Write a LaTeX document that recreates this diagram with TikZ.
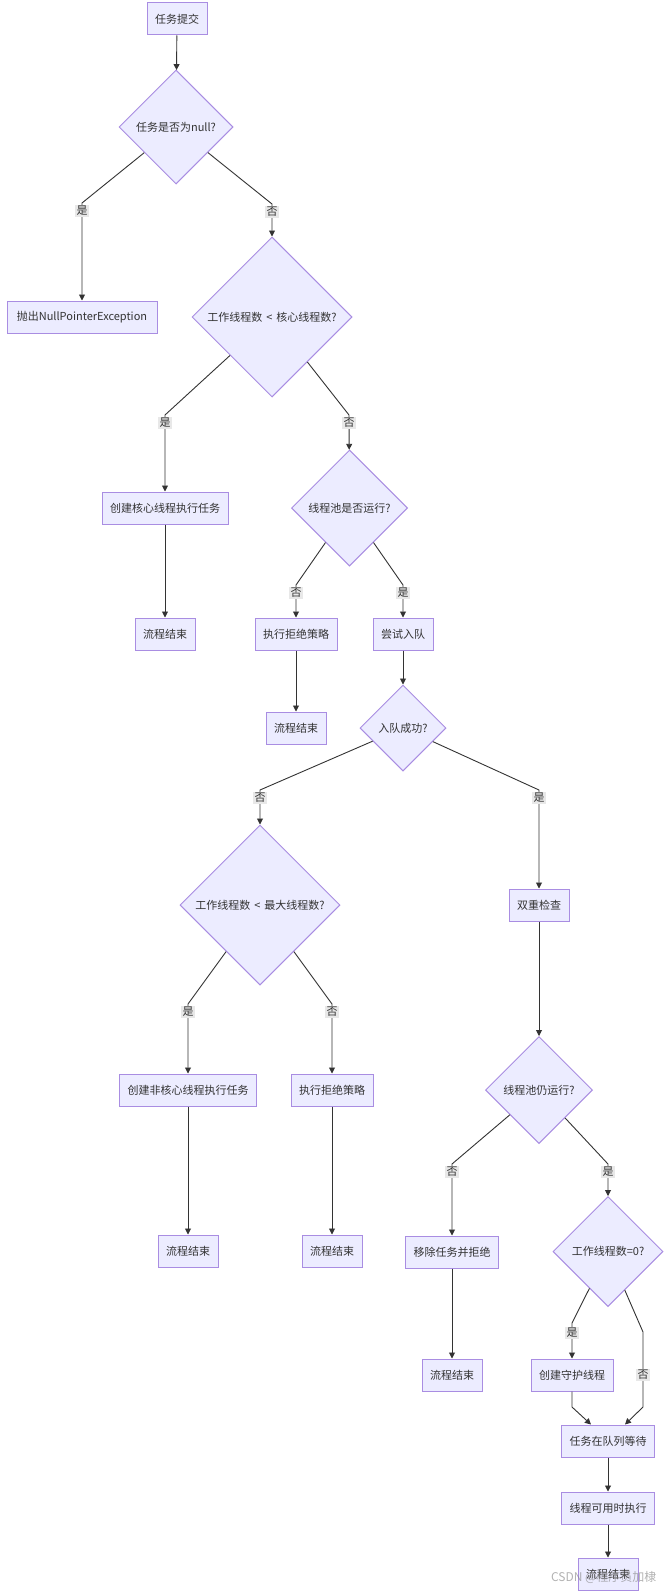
\documentclass[tikz,border=0pt]{standalone}
\usepackage{fontspec}
\setmainfont{Noto Sans CJK SC}
\usetikzlibrary{shapes.geometric,arrows.meta,calc}
\definecolor{nfill}{HTML}{ECECFF}
\definecolor{nline}{HTML}{9370DB}
\definecolor{eline}{HTML}{333333}
\definecolor{lblbg}{HTML}{E8E8E8}
\tikzset{
  stepbox/.style={draw=nline!80, fill=nfill, line width=1pt, minimum height=32pt,
    inner xsep=8pt, inner ysep=0pt, text=eline},
  decide/.style={diamond, aspect=1, draw=nline!80, fill=nfill, line width=1pt,
    inner sep=0pt, text=eline},
  conn/.style={draw=eline, line width=0.9pt, -{Triangle[length=6pt,width=6pt]}},
  lbl/.style={fill=lblbg, inner sep=1.5pt, text=eline},
}
\newcommand{\lessgap}{\hspace{4pt}<\hspace{4pt}}
\begin{document}
\begin{tikzpicture}[x=1pt,y=-1pt,font=\fontsize{11}{13}\selectfont]
\useasboundingbox[fill=white] (0,0) rectangle (664,1592);

% nodes
\node[stepbox] (b1) at (177,19) {任务提交};
\node[decide, minimum size=114pt] (d1) at (176,127) {任务是否为null?};
\node[stepbox, minimum width=150pt] (b2) at (82,317) {抛出NullPointerException};
\node[decide, minimum size=160pt] (d2) at (272,317) {工作线程数\lessgap 核心线程数?};
\node[stepbox] (b3) at (165,508) {创建核心线程执行任务};
\node[decide, minimum size=116pt] (d3) at (349.5,508) {线程池是否运行?};
\node[stepbox] (e1) at (165,634) {流程结束};
\node[stepbox] (b4) at (296,634) {执行拒绝策略};
\node[stepbox] (b5) at (403,634) {尝试入队};
\node[stepbox] (e2) at (296,728) {流程结束};
\node[decide, minimum size=86pt] (d4) at (403,728) {入队成功?};
\node[decide, minimum size=160pt] (d5) at (260,905) {工作线程数\lessgap 最大线程数?};
\node[stepbox] (b6) at (539,905) {双重检查};
\node[stepbox] (b7) at (188,1090) {创建非核心线程执行任务};
\node[stepbox] (b8) at (332,1090) {执行拒绝策略};
\node[decide, minimum size=107pt] (d6) at (539,1090) {线程池仍运行?};
\node[stepbox] (e3) at (188,1251) {流程结束};
\node[stepbox] (e4) at (332,1251) {流程结束};
\node[stepbox] (b9) at (452,1252) {移除任务并拒绝};
\node[decide, minimum size=110pt] (d7) at (608,1251.5) {工作线程数=0?};
\node[stepbox] (e5) at (452,1375) {流程结束};
\node[stepbox] (b10) at (572,1375) {创建守护线程};
\node[stepbox] (b11) at (608,1441) {任务在队列等待};
\node[stepbox] (b12) at (608,1508) {线程可用时执行};
\node[stepbox] (e6) at (608,1574) {流程结束};

% bend coordinates
\coordinate (k1) at (82,203);
\coordinate (k2) at (272,204);
\coordinate (k3) at (165,415);
\coordinate (k4) at (349,415);
\coordinate (k5) at (296,585);
\coordinate (k6) at (403,585);
\coordinate (k7) at (260,790);
\coordinate (k8) at (539,790);
\coordinate (k9) at (188,1004);
\coordinate (k10) at (332,1004);
\coordinate (k11) at (452,1164);
\coordinate (k12) at (608,1164);
\coordinate (k13) at (572,1323);
\coordinate (k14) at (643,1332);
\coordinate (k15) at (643,1407);
\coordinate (k16) at (572,1407);
\coordinate (inL) at ($(b11.north)+(-17,0)$);
\coordinate (inR) at ($(b11.north)+(17,0)$);

% connectors
\draw[conn] (b1) -- (d1);
\draw[conn] (d1) -- (k1) -- (b2);
\draw[conn] (d1) -- (k2) -- (d2);
\draw[conn] (d2) -- (k3) -- (b3);
\draw[conn] (d2) -- (k4) -- (d3);
\draw[conn] (b3) -- (e1);
\draw[conn] (d3) -- (k5) -- (b4);
\draw[conn] (d3) -- (k6) -- (b5);
\draw[conn] (b4) -- (e2);
\draw[conn] (b5) -- (d4);
\draw[conn] (d4) -- (k7) -- (d5);
\draw[conn] (d4) -- (k8) -- (b6);
\draw[conn] (d5) -- (k9) -- (b7);
\draw[conn] (d5) -- (k10) -- (b8);
\draw[conn] (b6) -- (d6);
\draw[conn] (b7) -- (e3);
\draw[conn] (b8) -- (e4);
\draw[conn] (d6) -- (k11) -- (b9);
\draw[conn] (d6) -- (k12) -- (d7);
\draw[conn] (b9) -- (e5);
\draw[conn] (d7) -- (k13) -- (b10);
\draw[conn] (d7) -- (k14) -- (k15) -- (inR);
\draw[conn] (b10) -- (k16) -- (inL);
\draw[conn] (b11) -- (b12);
\draw[conn] (b12) -- (e6);

% edge labels
\node[lbl] (l1) at (82,211) {是};
\node[lbl] (l2) at (272,212) {否};
\node[lbl] (l3) at (165,423) {是};
\node[lbl] (l4) at (349,423) {否};
\node[lbl] (l5) at (296,593) {否};
\node[lbl] (l6) at (403,593) {是};
\node[lbl] (l7) at (260,798) {否};
\node[lbl] (l8) at (539,798) {是};
\node[lbl] (l9) at (188,1012) {是};
\node[lbl] (l10) at (332,1012) {否};
\node[lbl] (l11) at (452,1172) {否};
\node[lbl] (l12) at (608,1172) {是};
\node[lbl] (l13) at (572,1333) {是};
\node[lbl] (l14) at (643,1375) {否};

% watermark
\node[anchor=east, text=gray, opacity=0.6, font=\fontsize{12}{14}\selectfont] (wm) at (660,1577) {CSDN @程序员加棣};
\end{tikzpicture}
\end{document}
